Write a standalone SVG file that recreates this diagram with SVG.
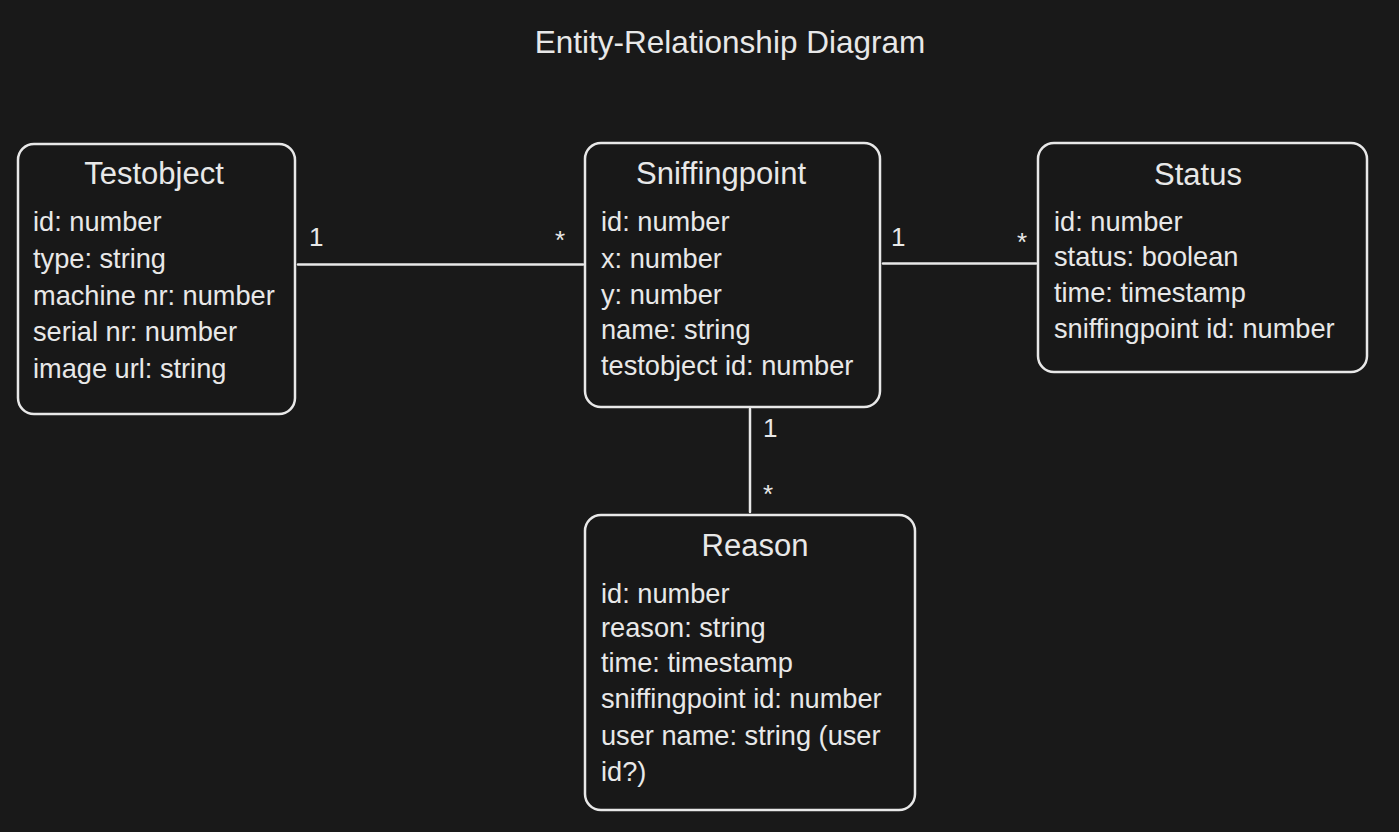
<svg xmlns="http://www.w3.org/2000/svg" width="1399" height="832" viewBox="0 0 1399 832">
<style>
.box{fill:#181818;stroke:#e8e8e8;stroke-width:2.5}
.t{font-family:"Liberation Sans",Arial,sans-serif;fill:#e8e8e8}
.title{font-size:31.5px}
.head{font-size:31px}
.attr{font-size:27.2px}
.lbl{font-size:26px}
.conn{stroke:#e8e8e8;stroke-width:2.5;fill:none;stroke-linecap:round}
</style>
<rect x="0" y="0" width="1399" height="832" fill="#191919"/>
<text class="t title" x="730" y="53" text-anchor="middle">Entity-Relationship Diagram</text>
<g id="connectors">
<line class="conn" x1="298" y1="264.5" x2="583" y2="264.5"/>
<line class="conn" x1="883" y1="263.5" x2="1036" y2="263.5"/>
<line class="conn" x1="750" y1="409" x2="750" y2="512"/>
<text class="t lbl" x="309" y="246">1</text>
<text class="t lbl" x="555" y="249">*</text>
<text class="t lbl" x="891" y="246">1</text>
<text class="t lbl" x="1017" y="251">*</text>
<text class="t lbl" x="763" y="437">1</text>
<text class="t lbl" x="763" y="503">*</text>
</g>
<g id="testobject">
<rect class="box" x="18" y="144" width="277" height="270" rx="16"/>
<text class="t head" x="154" y="184" text-anchor="middle">Testobject</text>
<text class="t attr" x="33" y="231">id: number</text>
<text class="t attr" x="33" y="268">type: string</text>
<text class="t attr" x="33" y="305">machine nr: number</text>
<text class="t attr" x="33" y="341">serial nr: number</text>
<text class="t attr" x="33" y="378">image url: string</text>
</g>
<g id="sniffingpoint">
<rect class="box" x="585" y="143" width="295" height="264" rx="16"/>
<text class="t head" x="721" y="184" text-anchor="middle">Sniffingpoint</text>
<text class="t attr" x="601" y="231">id: number</text>
<text class="t attr" x="601" y="268">x: number</text>
<text class="t attr" x="601" y="304">y: number</text>
<text class="t attr" x="601" y="339">name: string</text>
<text class="t attr" x="601" y="375">testobject id: number</text>
</g>
<g id="status">
<rect class="box" x="1038" y="143" width="329" height="229" rx="16"/>
<text class="t head" x="1198" y="185" text-anchor="middle">Status</text>
<text class="t attr" x="1054" y="231">id: number</text>
<text class="t attr" x="1054" y="266">status: boolean</text>
<text class="t attr" x="1054" y="302">time: timestamp</text>
<text class="t attr" x="1054" y="338">sniffingpoint id: number</text>
</g>
<g id="reason">
<rect class="box" x="585" y="515" width="330" height="295" rx="16"/>
<text class="t head" x="755" y="556" text-anchor="middle">Reason</text>
<text class="t attr" x="601" y="603">id: number</text>
<text class="t attr" x="601" y="637">reason: string</text>
<text class="t attr" x="601" y="672">time: timestamp</text>
<text class="t attr" x="601" y="708">sniffingpoint id: number</text>
<text class="t attr" x="601" y="745">user name: string (user</text>
<text class="t attr" x="601" y="781">id?)</text>
</g>
</svg>
